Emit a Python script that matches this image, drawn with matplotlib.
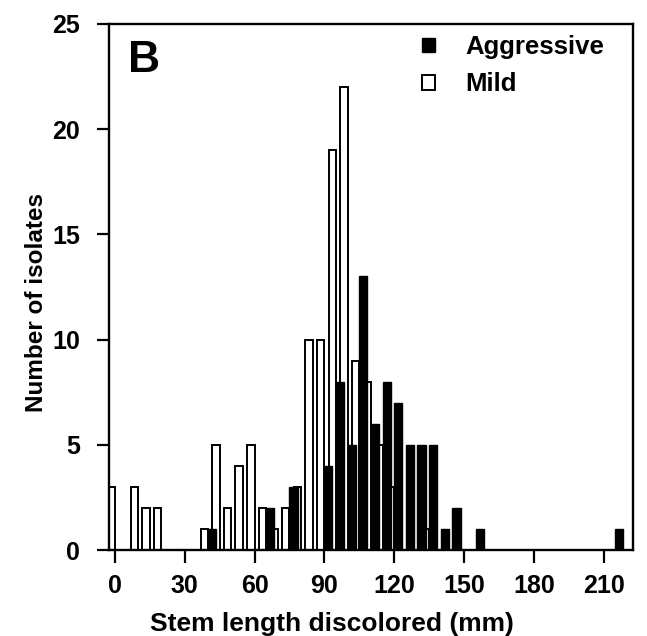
import matplotlib
matplotlib.use("Agg")
import matplotlib.pyplot as plt

# stem length bins (mm) and number of isolates in each
mild_mm = [0, 10, 15, 20, 40, 45, 50, 55, 60, 65, 70, 75, 80, 85, 90, 95, 100, 105, 110, 115, 120, 135]
mild_n = [3, 3, 2, 2, 1, 5, 2, 4, 5, 2, 1, 2, 3, 10, 10, 19, 22, 9, 8, 5, 3, 1]

aggr_mm = [40, 65, 75, 90, 95, 100, 105, 110, 115, 120, 125, 130, 135, 140, 145, 155, 215]
aggr_n = [1, 2, 3, 4, 8, 5, 13, 6, 8, 7, 5, 5, 5, 1, 2, 1, 1]

xticks = [0, 30, 60, 90, 120, 150, 180, 210]
yticks = [0, 5, 10, 15, 20, 25]

plt.rcParams['font.family'] = ['Liberation Sans', 'DejaVu Sans']
plt.rcParams['font.weight'] = 'bold'

fig = plt.figure(figsize=(6.47, 6.36), dpi=100)
ax = fig.add_axes([0.1685, 0.1352, 0.8095, 0.8271])

# white bars sit left of the bin value, black ones right of it and on top
mild = ax.bar(mild_mm, mild_n, width=-3.2, align='edge', color='white',
              edgecolor='black', linewidth=1.4, label='Mild')
aggr = ax.bar(aggr_mm, aggr_n, width=3.5, align='edge', color='black',
              edgecolor='black', linewidth=1.0, label='Aggressive')

ax.set_xlim(-2.5, 222.5)
ax.set_ylim(0, 25)
ax.set_xticks(xticks)
ax.set_yticks(yticks)
ax.tick_params(direction='out', length=9, width=1.6, labelsize=18, pad=8)
ax.tick_params(axis='y', pad=12)
for s in ax.spines.values():
    s.set_linewidth(1.7)

ax.set_xlabel('Stem length discolored (mm)', fontsize=19, fontweight='bold')
ax.xaxis.set_label_coords(0.4256, -0.117)
ax.set_ylabel('Number of isolates', fontsize=17.5, fontweight='bold')
ax.yaxis.set_label_coords(-0.116, 0.47)

ax.text(0.036, 0.97, 'B', transform=ax.transAxes, fontsize=32,
        fontweight='bold', va='top', ha='left')

ax.legend(handles=[aggr, mild], loc='upper left', bbox_to_anchor=(0.597, 0.979),
          frameon=False, fontsize=18.5, handlelength=0.5, handleheight=0.5,
          handletextpad=1.2, labelspacing=0.52, borderaxespad=0, borderpad=0)

fig.savefig('out.png', dpi=100)
